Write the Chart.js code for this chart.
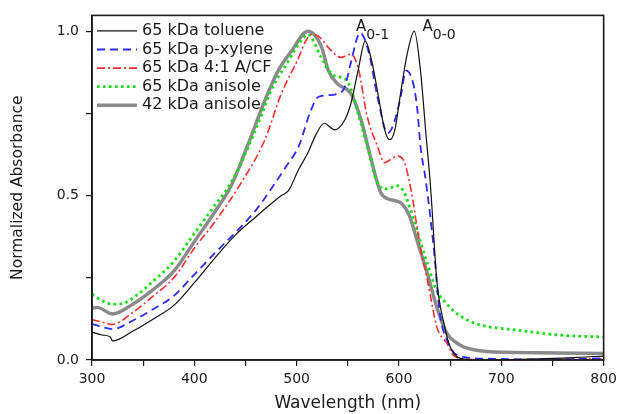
<!DOCTYPE html>
<html lang="en">
<head>
<meta charset="UTF-8">
<title>Normalized Absorbance</title>
<script src="https://cdn.jsdelivr.net/npm/chart.js"></script>
<style>
  html, body { margin: 0; padding: 0; background: #fff; }
</style>
</head>
<body>
<canvas id="spectra" width="622" height="414"></canvas>
<script>
// wavelength (nm) and normalized absorbance for each film
const tolueneNm  = [300, 310, 318, 320, 340, 360, 380, 400, 420, 440, 460, 475, 485, 492, 502, 511, 518, 527, 537, 547, 553, 560, 567, 574, 580, 586, 591, 596, 601, 608, 615, 621, 626, 631, 637, 644, 650, 660, 680, 720, 760, 800];
const tolueneAbs = [0.085, 0.076, 0.070, 0.058, 0.088, 0.125, 0.166, 0.235, 0.31, 0.38, 0.435, 0.475, 0.50, 0.515, 0.58, 0.63, 0.68, 0.72, 0.70, 0.73, 0.78, 0.88, 0.97, 0.90, 0.80, 0.70, 0.67, 0.70, 0.80, 0.93, 1.0, 0.88, 0.70, 0.52, 0.24, 0.11, 0.04, 0.005, 0.0, 0.002, 0.006, 0.012];

const xyleneNm  = [300, 310, 320, 340, 360, 380, 400, 420, 444, 460, 475, 490, 502, 514, 521, 530, 540, 547, 553, 562, 571, 579, 589, 595, 601, 607, 614, 618, 621, 626, 634, 640, 647, 657, 686, 750, 800];
const xyleneAbs = [0.11, 0.100, 0.094, 0.12, 0.155, 0.195, 0.26, 0.325, 0.40, 0.455, 0.52, 0.59, 0.65, 0.76, 0.80, 0.805, 0.81, 0.83, 0.905, 0.995, 0.93, 0.80, 0.69, 0.72, 0.79, 0.88, 0.84, 0.76, 0.65, 0.55, 0.34, 0.14, 0.06, 0.015, 0.004, 0.002, 0.005];

const blendNm  = [300, 310, 320, 340, 360, 380, 400, 420, 446, 469, 485, 502, 508, 514, 521, 534, 543, 553, 560, 569, 579, 586, 592, 598, 604, 611, 621, 628, 637, 647, 653, 665, 700, 800];
const blendAbs = [0.123, 0.115, 0.108, 0.145, 0.195, 0.25, 0.34, 0.42, 0.54, 0.67, 0.81, 0.92, 0.965, 0.99, 0.985, 0.94, 0.92, 0.93, 0.89, 0.74, 0.65, 0.60, 0.61, 0.62, 0.61, 0.53, 0.34, 0.24, 0.10, 0.05, 0.015, 0.003, 0.0, 0.003];

const anisoleNm  = [300, 310, 320, 330, 345, 360, 380, 400, 420, 436, 453, 465, 475, 492, 504, 511, 524, 534, 543, 551, 560, 569, 579, 586, 593, 598, 605, 611, 618, 628, 637, 647, 657, 676, 718, 760, 800];
const anisoleAbs = [0.20, 0.18, 0.17, 0.172, 0.20, 0.24, 0.30, 0.385, 0.47, 0.54, 0.65, 0.74, 0.82, 0.91, 0.97, 0.99, 0.92, 0.87, 0.86, 0.84, 0.75, 0.65, 0.54, 0.52, 0.525, 0.53, 0.51, 0.46, 0.39, 0.29, 0.21, 0.17, 0.14, 0.11, 0.09, 0.075, 0.07];

const anisole42Nm  = [300, 305, 320, 340, 360, 380, 400, 420, 436, 453, 469, 482, 495, 511, 524, 531, 540, 553, 563, 572, 582, 589, 596, 603, 610, 618, 628, 637, 647, 655, 663, 686, 734, 800];
const anisole42Abs = [0.157, 0.16, 0.14, 0.17, 0.215, 0.27, 0.36, 0.45, 0.53, 0.66, 0.79, 0.88, 0.94, 1.0, 0.955, 0.88, 0.84, 0.81, 0.73, 0.62, 0.51, 0.49, 0.485, 0.475, 0.44, 0.36, 0.26, 0.16, 0.08, 0.055, 0.04, 0.026, 0.022, 0.02];

const seriesNames = ['65 kDa toluene', '65 kDa p-xylene', '65 kDa 4:1 A/CF', '65 kDa anisole', '42 kDa anisole'];

const xTicks = [300, 350, 400, 450, 500, 550, 600, 650, 700, 750, 800];
const yTicks = [0, 0.25, 0.5, 0.75, 1.0];

// vibronic peak labels A0-1 / A0-0
const peakSubs = ['0-1', '0-0'];
const peakLabelNm = [558, 623];
const peakLabelAbs = [1.0, 1.0];

const FONT = '"DejaVu Sans", Arial, sans-serif';
const INK = '#1a1a1a';

function toPoints(xs, ys) {
  return xs.map((x, i) => ({ x: x, y: ys[i] }));
}

// legend in the top-left corner, peak labels and the closed frame
const overlay = {
  id: 'overlay',
  afterDatasetsDraw(chart) {
    const ctx = chart.ctx;
    const area = chart.chartArea;
    const xs = chart.scales.x, ys = chart.scales.y;
    ctx.save();

    ctx.font = '16px ' + FONT;
    ctx.textBaseline = 'middle';
    chart.data.datasets.forEach((ds, i) => {
      const y = area.top + 15.5 + i * 18.6;
      ctx.strokeStyle = ds.borderColor;
      ctx.lineWidth = ds.borderWidth;
      ctx.setLineDash(ds.borderDash || []);
      ctx.beginPath();
      ctx.moveTo(area.left + 5, y);
      ctx.lineTo(area.left + 45, y);
      ctx.stroke();
      ctx.setLineDash([]);
      ctx.fillStyle = INK;
      ctx.fillText(ds.label, area.left + 50, y);
    });

    ctx.textBaseline = 'alphabetic';
    peakSubs.forEach((sub, i) => {
      const px = xs.getPixelForValue(peakLabelNm[i]);
      const py = ys.getPixelForValue(peakLabelAbs[i]);
      ctx.font = '15px ' + FONT;
      ctx.fillText('A', px, py);
      const w = ctx.measureText('A').width;
      ctx.font = '14px ' + FONT;
      ctx.fillText(sub, px + w, py + 8);
    });

    ctx.strokeStyle = INK;
    ctx.lineWidth = 1.6;
    ctx.strokeRect(area.left, area.top, area.right - area.left, area.bottom - area.top);
    ctx.restore();
  }
};

new Chart(document.getElementById('spectra'), {
  type: 'line',
  data: {
    datasets: [
      { label: seriesNames[0], data: toPoints(tolueneNm, tolueneAbs), borderColor: '#111111', borderWidth: 1.2, borderDash: [] },
      { label: seriesNames[1], data: toPoints(xyleneNm, xyleneAbs), borderColor: '#2a2aff', borderWidth: 1.8, borderDash: [8, 5] },
      { label: seriesNames[2], data: toPoints(blendNm, blendAbs), borderColor: '#ff2a2a', borderWidth: 1.6, borderDash: [8, 3, 2, 3] },
      { label: seriesNames[3], data: toPoints(anisoleNm, anisoleAbs), borderColor: '#10e010', borderWidth: 2.8, borderDash: [2.6, 3.4] },
      { label: seriesNames[4], data: toPoints(anisole42Nm, anisole42Abs), borderColor: '#8a8a8a', borderWidth: 3.4, borderDash: [] }
    ]
  },
  options: {
    responsive: false,
    animation: false,
    clip: 4,
    layout: { padding: { top: 12, right: 14, left: 0, bottom: 0 } },
    elements: {
      point: { radius: 0 },
      line: { cubicInterpolationMode: 'monotone', fill: false }
    },
    plugins: {
      legend: { display: false },
      tooltip: { enabled: false }
    },
    scales: {
      x: {
        type: 'linear',
        min: 300,
        max: 800,
        afterBuildTicks: s => { s.ticks = xTicks.map(v => ({ value: v })); },
        afterFit: s => { s.height = 54; },
        ticks: {
          autoSkip: false,
          maxRotation: 0,
          padding: 5,
          color: INK,
          font: { family: FONT, size: 14 },
          callback: v => (v % 100 === 0 ? String(v) : '')
        },
        grid: { drawOnChartArea: false, drawTicks: true, tickLength: 6, color: INK, lineWidth: 1.2 },
        border: { display: true, color: INK, width: 1.6 },
        title: {
          display: true,
          text: 'Wavelength (nm)',
          color: INK,
          font: { family: FONT, size: 17 },
          padding: { top: 0, bottom: 0 }
        }
      },
      y: {
        min: 0,
        max: 1.048,
        afterBuildTicks: s => { s.ticks = yTicks.map(v => ({ value: v })); },
        afterFit: s => { s.width = 92; },
        ticks: {
          padding: 7,
          color: INK,
          font: { family: FONT, size: 14 },
          callback: v => (Math.abs(v % 0.5) < 1e-9 ? v.toFixed(1) : '')
        },
        grid: { drawOnChartArea: false, drawTicks: true, tickLength: 6, color: INK, lineWidth: 1.2 },
        border: { display: true, color: INK, width: 1.6 },
        title: {
          display: true,
          text: 'Normalized Absorbance',
          color: INK,
          font: { family: FONT, size: 15.5 },
          padding: { top: 9, bottom: 0 }
        }
      }
    }
  },
  plugins: [overlay]
});
</script>
</body>
</html>
